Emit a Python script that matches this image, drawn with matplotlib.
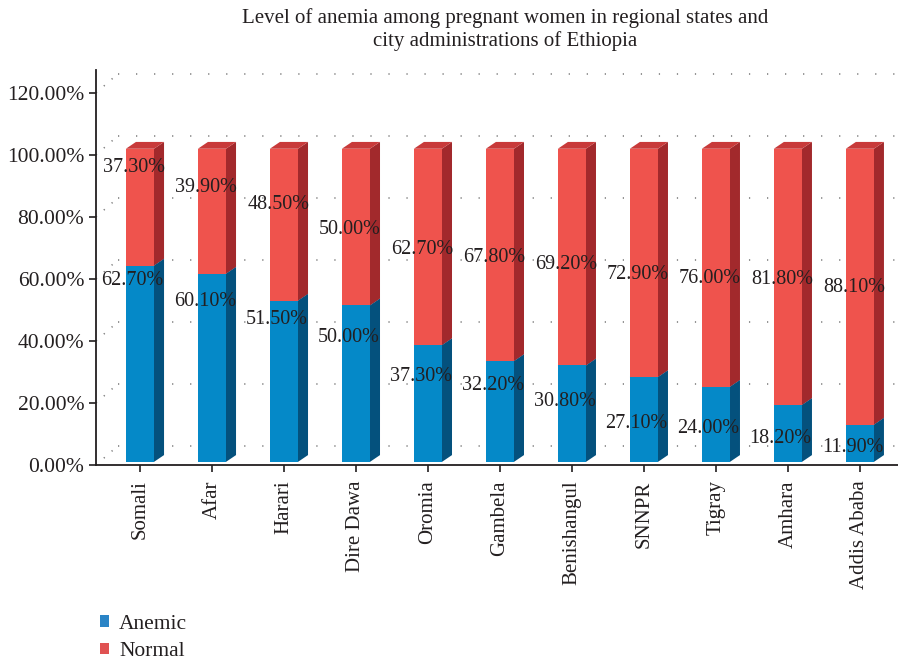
import matplotlib
matplotlib.use("Agg")
import matplotlib.pyplot as plt
from matplotlib.patches import Polygon, Patch

plt.rcParams["font.family"] = ["Liberation Serif", "DejaVu Serif"]

regions = ["Somali", "Afar", "Harari", "Dire Dawa", "Oromia", "Gambela",
           "Benishangul", "SNNPR", "Tigray", "Amhara", "Addis Ababa"]
anemic = [62.7, 60.1, 51.5, 50.0, 37.3, 32.2, 30.8, 27.1, 24.0, 18.2, 11.9]
normal = [37.3, 39.9, 48.5, 50.0, 62.7, 67.8, 69.2, 72.9, 76.0, 81.8, 88.1]
yticks = [0, 0.2, 0.4, 0.6, 0.8, 1.0, 1.2]

# where the value labels sit (axis units)
anemic_label_y = [0.594, 0.526, 0.468, 0.410, 0.284, 0.258, 0.206, 0.135, 0.119, 0.087, 0.058]
normal_label_y = [0.961, 0.894, 0.839, 0.758, 0.694, 0.668, 0.648, 0.616, 0.600, 0.597, 0.574]

BLUE, BLUE_SIDE, BLUE_TOP = "#0589c8", "#04517d", "#0a6fa5"
RED, RED_SIDE, RED_TOP = "#ef534d", "#a2292c", "#c83a3a"
INK = "#231f20"

fig = plt.figure(figsize=(8.98, 6.61), dpi=100)
ax = fig.add_axes([96 / 898, 196 / 661, 1 - 96 / 898, 395 / 661])
xmin, xmax = -0.61, 10.53
ax.set_xlim(xmin, xmax)
ax.set_ylim(0, 1.274)

# back-wall gridlines with a short diagonal on the side wall
gx, gy = 0.3, 0.061
for v in yticks:
    ax.plot([xmin, xmin + gx], [v, v + gy], color="#777777", lw=1.1,
            linestyle=(0, (0.8, 6)), clip_on=False, zorder=0)
    ax.plot([xmin + gx, xmax], [v + gy, v + gy], color="#777777", lw=1.1,
            linestyle=(0, (0.8, 11)), zorder=0)

w, dx, dy = 0.39, 0.14, 0.022
base, scale = 0.01, 1.01
for i in range(len(regions)):
    segs = [(0, anemic[i], BLUE, BLUE_SIDE, BLUE_TOP),
            (anemic[i], anemic[i] + normal[i], RED, RED_SIDE, RED_TOP)]
    for lo, hi, front, side, top in segs:
        y0 = base + lo / 100 * scale
        y1 = base + hi / 100 * scale
        xl, xr = i - w / 2, i + w / 2
        ax.bar(i, y1 - y0, bottom=y0, width=w, color=front,
               edgecolor="none", zorder=3)
        ax.add_patch(Polygon([(xr, y0), (xr + dx, y0 + dy), (xr + dx, y1 + dy), (xr, y1)],
                             closed=True, facecolor=side, edgecolor="none", zorder=2))
        ax.add_patch(Polygon([(xl, y1), (xl + dx, y1 + dy), (xr + dx, y1 + dy), (xr, y1)],
                             closed=True, facecolor=top, edgecolor="none", zorder=2))
    ax.text(i - 0.1, anemic_label_y[i], f"{anemic[i]:.2f}%", ha="center", va="center",
            fontsize=14.5, color=INK, zorder=5)
    ax.text(i - 0.08, normal_label_y[i], f"{normal[i]:.2f}%", ha="center", va="center",
            fontsize=14.5, color=INK, zorder=5)

ax.set_yticks(yticks)
ax.set_yticklabels([f"{v * 100:.2f}%" for v in yticks], fontsize=15.5, color=INK)
ax.set_xticks(range(len(regions)))
ax.set_xticklabels(regions, rotation=90, fontsize=15, color=INK)
ax.tick_params(axis="both", direction="out", length=5, width=1.2, color=INK)
ax.tick_params(axis="x", pad=6)
for s in ["top", "right"]:
    ax.spines[s].set_visible(False)
for s in ["left", "bottom"]:
    ax.spines[s].set_linewidth(1.3)
    ax.spines[s].set_color(INK)

fig.text(0.563, 0.988, "Level of anemia among pregnant women in regional states and\n"
         "city administrations of Ethiopia", ha="center", va="top",
         fontsize=15, color=INK, linespacing=1.2)

handles = [Patch(facecolor="#2a84c6", label="Anemic"),
           Patch(facecolor="#e05252", label="Normal")]
fig.legend(handles=handles, loc="center left", bbox_to_anchor=(0.111, 0.035),
           frameon=False, fontsize=15.5, handlelength=0.45, handleheight=0.45,
           handletextpad=0.45, labelspacing=0.38, borderpad=0, borderaxespad=0,
           labelcolor=INK)

fig.savefig("out.png", dpi=100)
